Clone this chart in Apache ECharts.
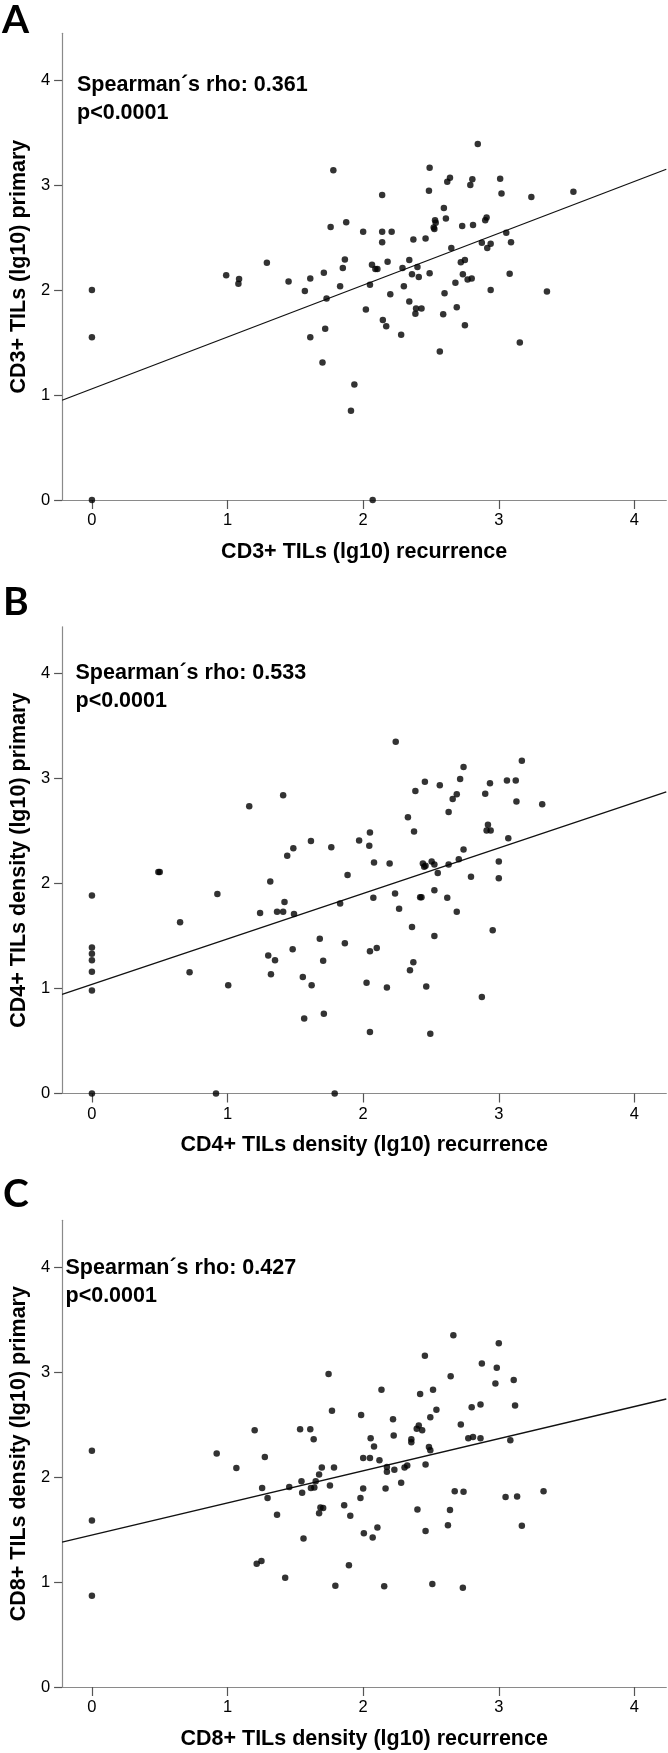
<!DOCTYPE html>
<html>
<head>
<meta charset="utf-8">
<script src="https://cdn.jsdelivr.net/npm/echarts@6/dist/echarts.min.js"></script>
<style>
html,body{margin:0;padding:0;background:#fff;}
#chart{width:668px;height:1753px;}
</style>
</head>
<body>
<div id="chart"></div>
<script>
// ---- data ----
var tickValues = [0, 1, 2, 3, 4];
var panelLetters = ['A', 'B', 'C'];
var xTitles = ['CD3+ TILs (lg10) recurrence', 'CD4+ TILs density (lg10) recurrence', 'CD8+ TILs density (lg10) recurrence'];
var yTitles = ['CD3+ TILs (lg10) primary', 'CD4+ TILs density (lg10) primary', 'CD8+ TILs density (lg10) primary'];
var rhoTexts = ['Spearman\u00b4s rho: 0.361', 'Spearman\u00b4s rho: 0.533', 'Spearman\u00b4s rho: 0.427'];
var pTexts = ['p<0.0001', 'p<0.0001', 'p<0.0001'];

var pointsA = [
[0,2.00],[0,1.55],[0,0],
[0.99,2.14],[1.085,2.105],[1.08,2.06],[1.29,2.26],[1.45,2.08],[1.57,1.99],[1.61,2.11],[1.71,2.165],[1.73,1.92],[1.78,3.14],[1.76,2.60],[1.875,2.645],[1.865,2.29],[1.85,2.21],[1.83,2.035],[2.00,2.555],[2.14,2.905],[2.14,2.555],[2.21,2.555],[2.14,2.455],[2.065,2.24],[2.09,2.20],[2.105,2.20],[2.18,2.27],[2.05,2.05],[2.20,1.96],[2.02,1.815],[2.145,1.715],[2.29,2.21],[2.34,2.285],[2.40,2.22],[2.36,2.15],[2.41,2.125],[2.30,2.035],[2.34,1.89],[2.39,1.825],[2.43,1.825],[2.385,1.775],[2.37,2.48],[2.46,2.49],[2.49,3.165],[2.485,2.945],[2.49,2.16],[2.595,2.78],[2.53,2.665],[2.535,2.64],[2.52,2.595],[2.525,2.58],[2.61,2.68],[2.62,3.03],[2.64,3.07],[2.65,2.40],[2.60,1.97],[2.69,1.835],[2.59,1.77],[2.68,2.07],[2.72,2.265],[2.75,2.285],[2.735,2.15],[2.77,2.10],[2.80,2.11],[2.73,2.61],[2.81,2.62],[2.79,3.00],[2.805,3.055],[2.845,3.39],[2.90,2.665],[2.91,2.69],[2.875,2.45],[2.94,2.44],[2.915,2.40],[2.94,2.00],[3.01,3.06],[3.02,2.92],[3.055,2.545],[3.09,2.455],[3.08,2.155],[3.24,2.885],[3.355,1.985],[3.55,2.935],
[1.61,1.55],[1.72,1.63],[1.70,1.31],[1.935,1.10],[1.91,0.85],[2.17,1.655],[2.28,1.575],[2.565,1.415],[2.75,1.665],[3.155,1.50],[2.07,0]
];
var pointsB = [
[0,1.885],[0.49,2.11],[0.50,2.11],[0.925,1.90],[1.16,2.735],[1.315,2.02],[1.41,2.84],[1.44,2.265],[1.485,2.335],[1.615,2.405],[1.765,2.345],[1.885,2.08],[1.97,2.41],[2.045,2.36],[2.05,2.485],[2.08,2.20],[2.195,2.19],[2.24,3.35],[2.33,2.63],[2.375,2.495],[2.385,2.88],[2.455,2.97],[2.565,2.935],[2.44,2.19],[2.45,2.16],[2.46,2.17],[2.505,2.21],[2.525,2.18],[2.55,2.10],[2.63,2.18],[2.63,2.68],[2.66,2.805],[2.69,2.85],[2.715,2.995],[2.74,3.11],[2.705,2.23],[2.74,2.325],[2.795,2.065],[2.90,2.855],[2.935,2.955],[2.92,2.56],[2.91,2.505],[2.94,2.505],[3.00,2.21],[3.00,2.05],[3.07,2.43],[3.06,2.98],[3.125,2.98],[3.13,2.78],[3.17,3.17],[3.32,2.755],[2.42,1.87],[2.43,1.87],[2.525,1.935],[2.62,1.865],[2.235,1.905],[2.075,1.865],[2.265,1.76],[2.69,1.73],[1.83,1.81],[1.42,1.825],[1.24,1.72],[1.365,1.73],[1.41,1.73],[1.49,1.71],
[0,1.39],[0,1.33],[0,1.27],[0,1.16],[0,0.98],[0,0],[0.65,1.63],[0.72,1.155],[1.005,1.03],[0.915,0],[1.30,1.315],[1.35,1.27],[1.32,1.135],[1.48,1.375],[1.68,1.475],[1.705,1.265],[1.555,1.11],[1.62,1.03],[1.565,0.715],[1.71,0.76],[1.865,1.43],[1.79,0],[2.05,1.355],[2.10,1.385],[2.025,1.055],[2.175,1.01],[2.05,0.585],[2.36,1.585],[2.525,1.50],[2.37,1.25],[2.345,1.175],[2.465,1.02],[2.495,0.57],[2.875,0.92],[2.955,1.555]
];
var pointsC = [
[0,2.25],[0.92,2.225],[1.065,2.085],[1.20,2.445],[1.275,2.19],[1.255,1.895],[1.295,1.80],[1.455,1.905],[1.535,2.455],[1.61,2.455],[1.635,2.36],[1.545,1.96],[1.55,1.85],[1.615,1.895],[1.64,1.90],[1.65,1.96],[1.675,2.025],[1.695,2.09],[1.785,2.09],[1.755,1.92],[1.685,1.71],[1.705,1.705],[1.745,2.98],[1.77,2.63],[1.86,1.73],[1.985,2.59],[2.00,2.18],[2.00,1.89],[1.98,1.80],[2.05,2.18],[2.055,2.37],[2.08,2.29],[2.12,2.16],[2.135,2.83],[2.175,2.095],[2.175,2.05],[2.23,2.07],[2.165,1.89],[2.22,2.55],[2.225,2.395],[2.28,1.945],[2.305,2.09],[2.325,2.11],[2.355,2.36],[2.355,2.33],[2.395,2.46],[2.41,2.49],[2.435,2.445],[2.42,2.79],[2.455,3.155],[2.46,2.12],[2.495,2.57],[2.485,2.285],[2.495,2.255],[2.515,2.83],[2.54,2.64],[2.40,1.69],[2.645,2.96],[2.665,3.35],[2.64,1.685],[2.675,1.865],[2.74,1.86],[2.72,2.50],[2.775,2.37],[2.81,2.38],[2.80,2.665],[2.865,2.69],[2.865,2.37],[2.875,3.08],[2.975,2.89],[2.985,3.04],[3.00,3.275],[3.11,2.925],[3.12,2.68],[3.085,2.35],[3.05,1.81],[3.135,1.815],[3.33,1.865],
[0,1.585],[0,0.87],[1.215,1.175],[1.25,1.20],[1.365,1.64],[1.425,1.04],[1.56,1.415],[1.675,1.655],[1.795,0.965],[1.905,1.63],[1.895,1.16],[2.005,1.465],[2.07,1.425],[2.105,1.52],[2.155,0.96],[2.46,1.485],[2.51,0.98],[2.625,1.54],[2.735,0.945],[3.17,1.535]
];
// fit line end points (x at left/right axis edge, y)
var lineA = [[-0.22, 0.95], [4.235, 3.15]];
var lineB = [[-0.22, 0.944], [4.235, 2.873]];
var lineC = [[-0.22, 1.38], [4.235, 2.743]];

var xMin = -0.22, xMax = 4.235, yMin = 0, yMax = 4.445;

// ---- layout ----
var gridTops = [33.3, 626.8, 1220.3];
var gridH = 466.7;
var gridLeft = 51.2, gridRight = 1.7;
var annot = [
  {x: 77, y1: 86, y2: 114},
  {x: 75.5, y1: 674.5, y2: 702},
  {x: 65.5, y1: 1269, y2: 1297}
];
var letterPos = [{x: 2, y: 21}, {x: 3, y: 603}, {x: 3, y: 1195}];

var FONT = '"Liberation Sans", Arial, sans-serif';
var pointSets = [pointsA, pointsB, pointsC];
var lineSets = [lineA, lineB, lineC];

var grids = [], xAxes = [], yAxes = [], series = [], graphics = [];
for (var i = 0; i < 3; i++) {
  grids.push({left: gridLeft, right: gridRight, top: gridTops[i], height: gridH, containLabel: false});
  xAxes.push({
    type: 'value', gridIndex: i, min: xMin, max: xMax,
    name: xTitles[i], nameLocation: 'middle', nameGap: 41,
    nameTextStyle: {fontFamily: FONT, fontSize: 21.5, fontWeight: 'bold', color: '#000'},
    axisLine: {show: true, onZero: false, lineStyle: {color: '#8a8a8a', width: 1.2}},
    axisTick: {show: true, length: 9, customValues: tickValues, lineStyle: {color: '#555', width: 1.2}},
    axisLabel: {customValues: tickValues, margin: 12, fontFamily: FONT, fontSize: 16.5, color: '#000'},
    splitLine: {show: false}
  });
  yAxes.push({
    type: 'value', gridIndex: i, min: yMin, max: yMax,
    name: yTitles[i], nameLocation: 'middle', nameGap: 30,
    nameTextStyle: {fontFamily: FONT, fontSize: 21.5, fontWeight: 'bold', color: '#000'},
    axisLine: {show: true, onZero: false, lineStyle: {color: '#8a8a8a', width: 1.2}},
    axisTick: {show: true, length: 8, customValues: tickValues, lineStyle: {color: '#555', width: 1.2}},
    axisLabel: {customValues: tickValues, margin: 12, fontFamily: FONT, fontSize: 16.5, color: '#000'},
    splitLine: {show: false}
  });
  series.push({
    type: 'scatter', xAxisIndex: i, yAxisIndex: i, data: pointSets[i],
    symbol: 'circle', symbolSize: 6.5, clip: false,
    itemStyle: {color: '#000'}, silent: true, z: 3
  });
  series.push({
    type: 'line', xAxisIndex: i, yAxisIndex: i, data: lineSets[i],
    symbol: 'none', clip: false, lineStyle: {color: '#111', width: 1.3}, silent: true, z: 2
  });
  graphics.push({
    type: 'text', left: annot[i].x, top: annot[i].y1 - 12,
    style: {text: rhoTexts[i], font: 'bold 21.5px ' + FONT, fill: '#000'}
  });
  graphics.push({
    type: 'text', left: annot[i].x, top: annot[i].y2 - 12,
    style: {text: pTexts[i], font: 'bold 21.5px ' + FONT, fill: '#000'}
  });
  graphics.push({
    type: 'text', left: letterPos[i].x, top: letterPos[i].y - 20,
    style: {text: panelLetters[i], font: 'bold 39px Lato, "Open Sans", sans-serif', fill: '#000'}
  });
}

var chart = echarts.init(document.getElementById('chart'), null, {renderer: 'canvas'});
chart.setOption({
  animation: false,
  backgroundColor: '#fff',
  grid: grids,
  xAxis: xAxes,
  yAxis: yAxes,
  series: series,
  graphic: graphics
});
</script>
</body>
</html>
